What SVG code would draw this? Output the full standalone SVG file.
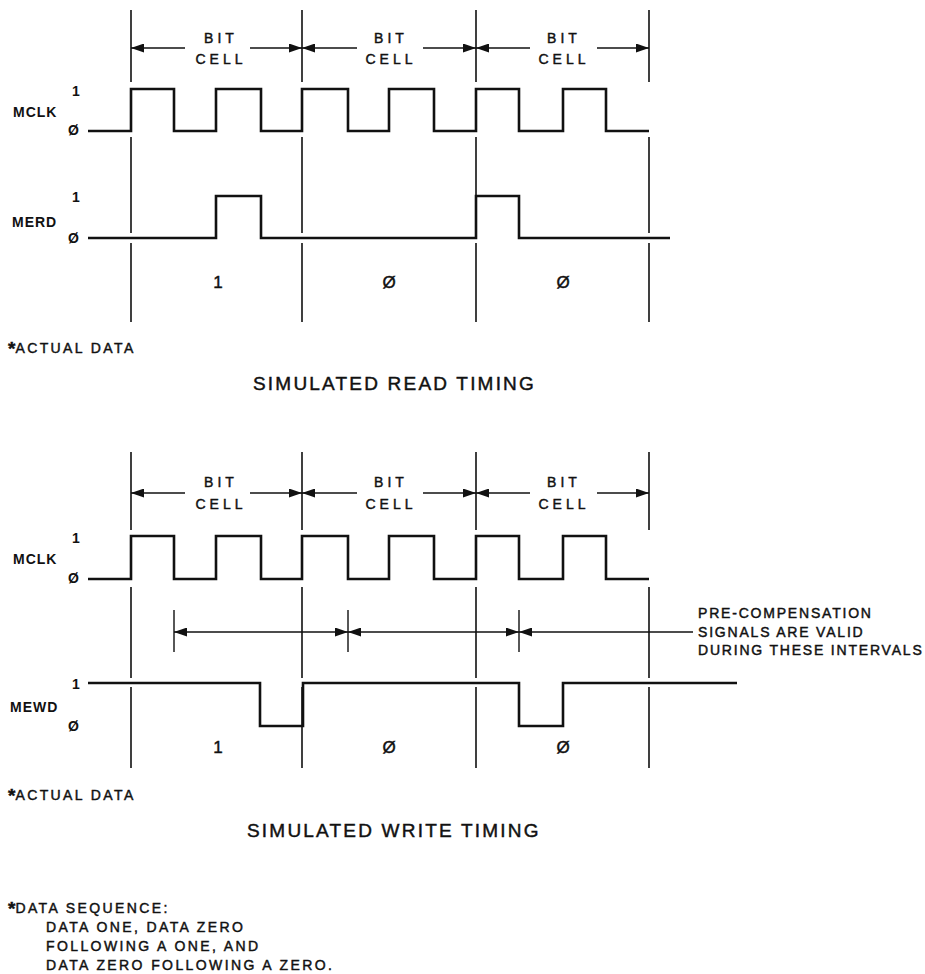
<svg xmlns="http://www.w3.org/2000/svg" width="925" height="974" viewBox="0 0 925 974">
<defs>
<marker id="ah" viewBox="0 0 13 9" refX="13" refY="4.5" markerWidth="13" markerHeight="9" markerUnits="userSpaceOnUse" orient="auto">
<path d="M0,0 L13,4.5 L0,9 z" fill="#111"/>
</marker>
<style>
.wave{fill:none;stroke:#111;stroke-width:2.6;stroke-linejoin:miter}
.grid{stroke:#111;stroke-width:1.6;fill:none}
.dim{stroke:#111;stroke-width:1.3;fill:none;marker-end:url(#ah)}
.tick{stroke:#111;stroke-width:1.4}
text{font-family:"Liberation Sans",Arial,sans-serif;fill:#111;stroke:#111;stroke-width:0.45}
.sig{font-size:14px;font-weight:bold;letter-spacing:1px;stroke-width:0}
.lvl{font-size:14px;font-weight:bold;stroke-width:0}
.bc{font-size:14px;letter-spacing:4px;text-anchor:middle}
.dig{font-size:17px;text-anchor:middle}
.note{font-size:14px;letter-spacing:2.4px}
.ast{font-size:19px;font-weight:bold;letter-spacing:0}
.title{font-size:19px;letter-spacing:2.2px}
.pc{font-size:14px;letter-spacing:1.8px}
</style>
</defs>

<g id="read-timing">
<g id="read-grid">
<path class="grid" d="M131,10V82 M302,10V82 M476,10V82 M649,10V82 M131,137V233 M302,137V233 M476,137V233 M649,137V233 M131,243V322 M302,243V322 M476,243V322 M649,243V322"/>
</g>
<g id="read-bitcells">
<line class="dim" x1="185" y1="48" x2="131" y2="48"/>
<line class="dim" x1="250" y1="48" x2="302" y2="48"/>
<line class="dim" x1="357" y1="48" x2="302" y2="48"/>
<line class="dim" x1="423" y1="48" x2="476" y2="48"/>
<line class="dim" x1="530" y1="48" x2="476" y2="48"/>
<line class="dim" x1="597" y1="48" x2="649" y2="48"/>
<text class="bc" x="221" y="43">BIT</text><text class="bc" x="221" y="64">CELL</text>
<text class="bc" x="391" y="43">BIT</text><text class="bc" x="391" y="64">CELL</text>
<text class="bc" x="564" y="43">BIT</text><text class="bc" x="564" y="64">CELL</text>
</g>
<g id="read-mclk">
<text class="lvl" x="72" y="96">1</text>
<text class="sig" x="13" y="117">MCLK</text>
<text class="lvl" x="68" y="135">Ø</text>
<path class="wave" d="M88,131H131V89H174V131H216V89H261V131H302V89H348V131H389V89H434V131H476V89H519V131H563V89H606V131H649"/>
</g>
<g id="read-merd">
<text class="lvl" x="72" y="202">1</text>
<text class="sig" x="12" y="227">MERD</text>
<text class="lvl" x="68" y="243">Ø</text>
<path class="wave" d="M88,238H216V196H261V238H476V196H519V238H670"/>
</g>
<g id="read-data">
<text class="dig" x="218" y="288">1</text>
<text class="dig" x="389" y="288">Ø</text>
<text class="dig" x="563" y="288">Ø</text>
</g>
<text class="note" x="8" y="353"><tspan class="ast" dy="2">*</tspan><tspan dy="-2">ACTUAL DATA</tspan></text>
<text class="title" x="253" y="390">SIMULATED READ TIMING</text>
</g>

<g id="write-timing">
<g id="write-grid">
<path class="grid" d="M131,452V530 M302,452V530 M476,452V530 M649,452V530 M131,587V678 M302,587V678 M476,587V678 M649,587V678 M131,687V768 M302,687V768 M476,687V768 M649,687V768"/>
</g>
<g id="write-bitcells">
<line class="dim" x1="185" y1="493" x2="131" y2="493"/>
<line class="dim" x1="250" y1="493" x2="302" y2="493"/>
<line class="dim" x1="357" y1="493" x2="302" y2="493"/>
<line class="dim" x1="423" y1="493" x2="476" y2="493"/>
<line class="dim" x1="530" y1="493" x2="476" y2="493"/>
<line class="dim" x1="597" y1="493" x2="649" y2="493"/>
<text class="bc" x="221" y="487">BIT</text><text class="bc" x="221" y="509">CELL</text>
<text class="bc" x="391" y="487">BIT</text><text class="bc" x="391" y="509">CELL</text>
<text class="bc" x="564" y="487">BIT</text><text class="bc" x="564" y="509">CELL</text>
</g>
<g id="write-mclk">
<text class="lvl" x="72" y="543">1</text>
<text class="sig" x="13" y="564">MCLK</text>
<text class="lvl" x="68" y="583">Ø</text>
<path class="wave" d="M88,579H131V536H174V579H216V536H261V579H302V536H348V579H389V536H434V579H476V536H519V579H563V536H606V579H649"/>
</g>
<g id="precomp">
<path class="tick" d="M174,610V652 M348,610V652 M519,610V652"/>
<line class="dim" x1="262" y1="632" x2="174" y2="632"/>
<line class="dim" x1="262" y1="632" x2="348" y2="632"/>
<line class="dim" x1="434" y1="632" x2="348" y2="632"/>
<line class="dim" x1="434" y1="632" x2="519" y2="632"/>
<line class="dim" x1="693" y1="632" x2="519" y2="632"/>
<text class="pc" x="698" y="618">PRE-COMPENSATION</text>
<text class="pc" x="698" y="637">SIGNALS ARE VALID</text>
<text class="pc" x="698" y="655">DURING THESE INTERVALS</text>
</g>
<g id="write-mewd">
<text class="lvl" x="72" y="689">1</text>
<text class="sig" x="10" y="712">MEWD</text>
<text class="lvl" x="68" y="731">Ø</text>
<path class="wave" d="M88,683H260V726H303V683H519V726H563V683H737"/>
</g>
<g id="write-data">
<text class="dig" x="218" y="753">1</text>
<text class="dig" x="389" y="753">Ø</text>
<text class="dig" x="563" y="753">Ø</text>
</g>
<text class="note" x="8" y="800"><tspan class="ast" dy="2">*</tspan><tspan dy="-2">ACTUAL DATA</tspan></text>
<text class="title" x="247" y="837">SIMULATED WRITE TIMING</text>
</g>

<g id="footnote">
<text class="note" x="8" y="913"><tspan class="ast" dy="2">*</tspan><tspan dy="-2">DATA SEQUENCE:</tspan></text>
<text class="note" x="46" y="932">DATA ONE, DATA ZERO</text>
<text class="note" x="46" y="951">FOLLOWING A ONE, AND</text>
<text class="note" x="46" y="970">DATA ZERO FOLLOWING A ZERO.</text>
</g>
</svg>
